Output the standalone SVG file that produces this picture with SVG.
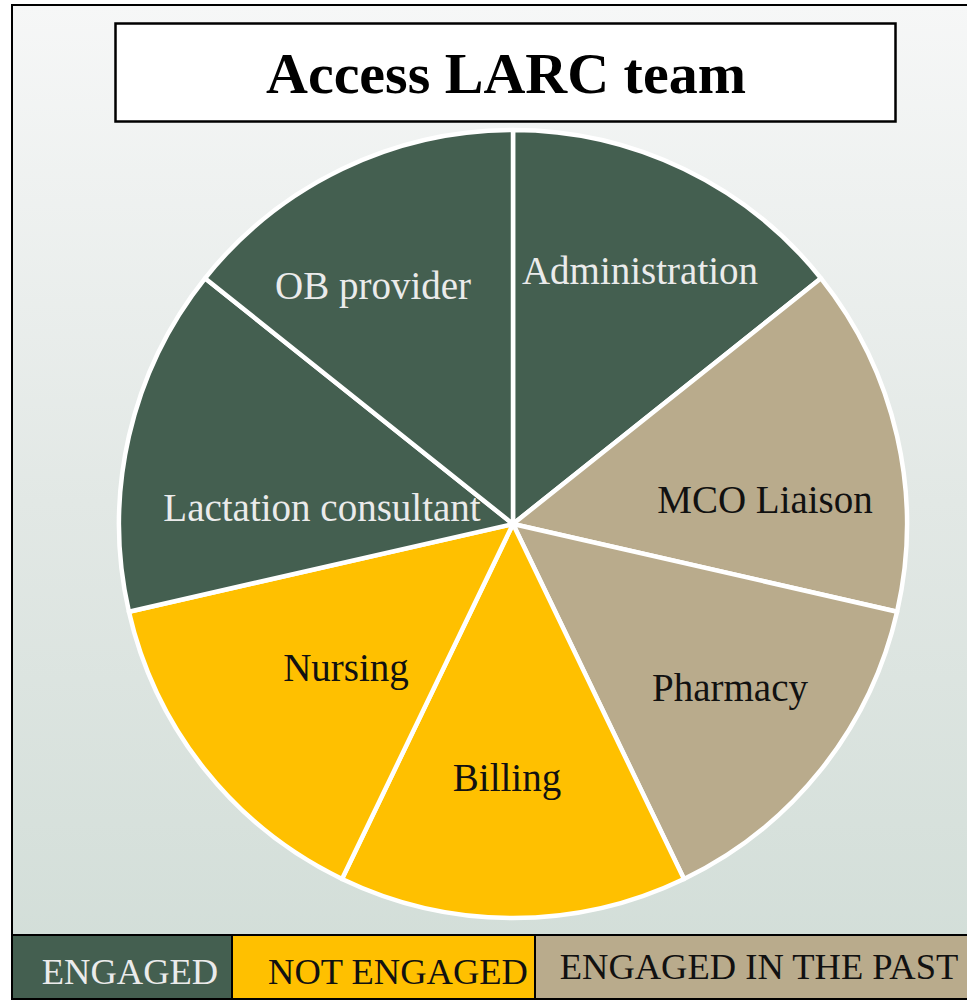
<svg xmlns="http://www.w3.org/2000/svg" width="967" height="1001" viewBox="0 0 967 1001">
<defs>
<linearGradient id="bg" x1="0" y1="0" x2="0" y2="1">
<stop offset="0" stop-color="#f6f7f7"/>
<stop offset="0.5" stop-color="#e2e8e5"/>
<stop offset="1" stop-color="#d1ddd7"/>
</linearGradient>
</defs>
<style>
.slice{stroke:#ffffff;stroke-width:4.5;stroke-linejoin:round}
.g{fill:#445f50}.y{fill:#ffc000}.t{fill:#b9ab8c}
.lbl{font-family:"Liberation Serif",serif;font-size:39px;text-anchor:middle}
.lw{fill:#ebebeb}.lb{fill:#111111}
.leg{font-family:"Liberation Serif",serif;font-size:36.5px;text-anchor:middle}
</style>
<rect x="0" y="0" width="967" height="1001" fill="#ffffff"/>
<rect id="frame" x="12" y="5" width="960" height="994" fill="url(#bg)" stroke="#000000" stroke-width="2"/>
<g id="title">
<rect x="115.5" y="23.5" width="780" height="98" fill="#ffffff" stroke="#000000" stroke-width="2.5"/>
<text x="506" y="93" font-family="Liberation Serif,serif" font-size="58" font-weight="bold" text-anchor="middle" fill="#000000">Access LARC team</text>
</g>
<g id="slice-administration">
<path class="slice g" d="M513,524 L513,130 A394,394 0 0 1 821,278.3 Z"/>
<text class="lbl lw" x="640" y="284">Administration</text>
</g>
<g id="slice-mco">
<path class="slice t" d="M513,524 L821,278.3 A394,394 0 0 1 897.1,611.7 Z"/>
<text class="lbl lb" x="765" y="513">MCO Liaison</text>
</g>
<g id="slice-pharmacy">
<path class="slice t" d="M513,524 L897.1,611.7 A394,394 0 0 1 684,879 Z"/>
<text class="lbl lb" x="730" y="701">Pharmacy</text>
</g>
<g id="slice-billing">
<path class="slice y" d="M513,524 L684,879 A394,394 0 0 1 342,879 Z"/>
<text class="lbl lb" x="507" y="791">Billing</text>
</g>
<g id="slice-nursing">
<path class="slice y" d="M513,524 L342,879 A394,394 0 0 1 128.9,611.7 Z"/>
<text class="lbl lb" x="346" y="681">Nursing</text>
</g>
<g id="slice-lactation">
<path class="slice g" d="M513,524 L128.9,611.7 A394,394 0 0 1 205,278.3 Z"/>
<text class="lbl lw" x="322" y="521">Lactation consultant</text>
</g>
<g id="slice-ob">
<path class="slice g" d="M513,524 L205,278.3 A394,394 0 0 1 513,130 Z"/>
<text class="lbl lw" x="373" y="299">OB provider</text>
</g>
<g id="legend">
<rect x="12" y="935" width="220" height="64" class="g" stroke="#000000" stroke-width="2"/>
<rect x="232" y="935" width="303" height="64" class="y" stroke="#000000" stroke-width="2"/>
<rect x="535" y="935" width="440" height="64" class="t" stroke="#000000" stroke-width="2"/>
<text class="leg lw" x="130" y="984">ENGAGED</text>
<text class="leg lb" x="398" y="984">NOT ENGAGED</text>
<text class="leg lb" x="759" y="979">ENGAGED IN THE PAST</text>
</g>
</svg>
